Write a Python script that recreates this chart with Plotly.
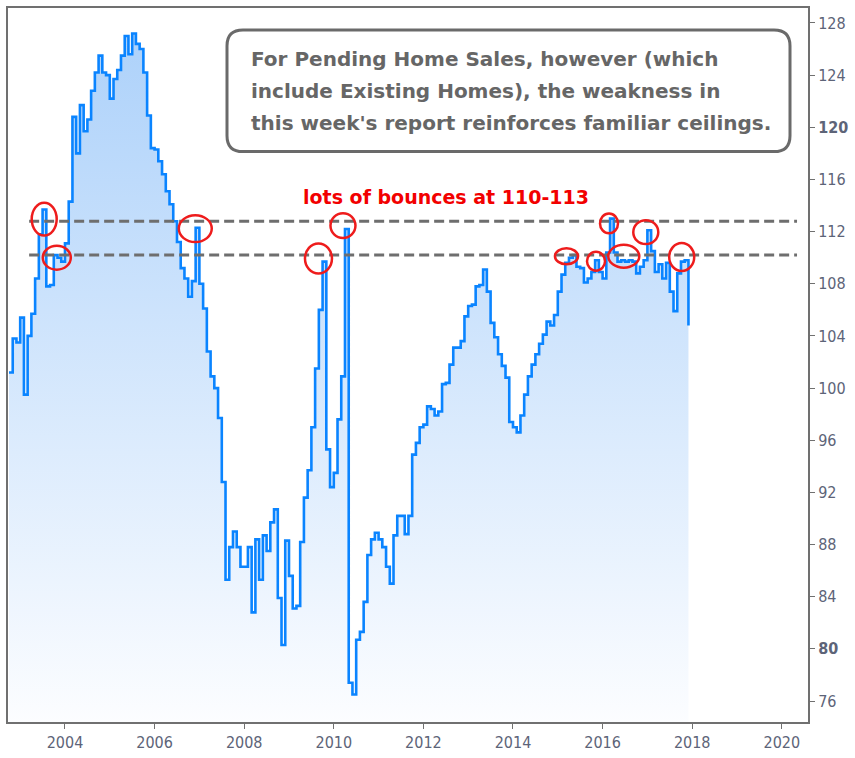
import plotly.graph_objects as go

# ---- data (monthly index, Oct 2002 .. Dec 2017) ----
start_year = 2002
start_month = 10
values = [
    101.2, 103.8, 103.5,
    105.4, 99.5, 104.0, 105.7, 108.4, 111.8, 113.7, 107.8, 107.9, 110.2, 110.0, 109.7,
    111.1, 114.3, 120.8, 118.0, 121.7, 119.7, 120.6, 122.8, 124.2, 125.5, 124.2, 124.0,
    122.2, 123.7, 124.4, 125.5, 127.0, 125.6, 127.2, 126.4, 126.0, 124.2, 120.9, 118.4,
    118.3, 117.4, 116.4, 115.1, 114.1, 112.8, 111.2, 109.2, 108.4, 107.0, 108.2, 112.3,
    108.0, 106.1, 102.8, 100.9, 100.0, 97.7, 92.8, 85.3, 87.8, 89.0, 87.8, 86.3,
    86.3, 87.8, 82.8, 88.4, 85.3, 88.7, 87.5, 89.7, 90.7, 83.9, 80.3, 88.3,
    85.6, 83.1, 83.3, 88.2, 91.6, 93.7, 97.0, 101.5, 106.0, 109.7, 95.3, 92.4,
    93.5, 97.6, 100.9, 112.2, 77.4, 76.5, 80.7, 81.3, 83.6, 87.2, 88.4, 88.9,
    88.4, 87.8, 86.3, 85.0, 88.7, 90.2, 90.2, 88.8, 90.2, 94.9, 95.8, 97.0,
    97.2, 98.6, 98.4, 97.9, 98.2, 100.3, 100.4, 101.8, 103.1, 103.1, 103.6, 105.5,
    106.3, 106.4, 107.8, 107.9, 109.1, 107.4, 105.0, 103.9, 102.6, 101.7, 100.8, 97.4,
    97.0, 96.6, 97.9, 99.5, 100.9, 101.8, 102.6, 103.4, 104.1, 105.1, 104.8, 105.6,
    107.4, 108.7, 109.6, 110.0, 110.2, 109.3, 109.2, 108.1, 108.4, 108.9, 109.8, 108.9,
    108.4, 110.4, 113.0, 110.4, 109.7, 109.8, 109.7, 109.8, 109.7, 108.8, 109.3, 109.8,
    112.1, 110.5, 108.9, 109.5, 108.4, 109.6, 107.4, 105.9, 108.8, 109.7, 109.8, 104.8,
]
dates = [start_year + (start_month - 1 + i) / 12 for i in range(len(values))]

ceiling_levels = [112.8, 110.2]
ceiling_span = [2003.2, 2020.34]

# circled bounces: (decimal year, value, width px, height px)
circle_x = [2003.536, 2003.817, 2006.908, 2009.658, 2010.205, 2015.194, 2015.853, 2016.143, 2016.473, 2016.964, 2017.766]
circle_y = [112.96, 110.0, 112.23, 109.94, 112.46, 110.11, 109.73, 112.63, 110.11, 111.96, 110.05]
circle_w = [25, 28, 33, 27, 25, 23, 18, 18, 31, 25, 25]
circle_h = [33, 24, 27, 30, 25, 16, 19, 20, 23, 24, 28]

y_ticks = [128, 124, 120, 116, 112, 108, 104, 100, 96, 92, 88, 84, 80, 76]
y_bold = [120, 80]
x_ticks = [2004, 2006, 2008, 2010, 2012, 2014, 2016, 2018, 2020]

box_lines = [
    "For Pending Home Sales, however (which",
    "include Existing Homes), the weakness in",
    "this week's report reinforces familiar ceilings.",
]
bounce_label = "lots of bounces at 110-113"

# ---- layout geometry ----
W, H = 855, 758
ml, mr, mt, mb = 8, 47, 6, 36
pw, ph = W - ml - mr, H - mt - mb
x_range = [2002.728, 2020.585]
y_range = [74.39, 129.15]
px_per_x = pw / (x_range[1] - x_range[0])
px_per_y = ph / (y_range[1] - y_range[0])

fig = go.Figure()
fig.add_trace(go.Scatter(
    x=dates, y=values, mode="lines", line=dict(color="#0a84ff", width=2.6, shape="hv"),
    fill="tozeroy",
    fillgradient=dict(type="vertical", start=y_range[0], stop=128,
                      colorscale=[[0, "rgb(252,253,255)"], [1, "rgb(172,209,250)"]]),
    hoverinfo="skip", showlegend=False,
))

shapes = []
for lv in ceiling_levels:
    shapes.append(dict(type="line", xref="x", yref="y", x0=ceiling_span[0], x1=ceiling_span[1],
                       y0=lv, y1=lv, line=dict(color="#6e6e6e", width=3, dash="10px,5px")))
for cx, cy, cw, chh in zip(circle_x, circle_y, circle_w, circle_h):
    dx = cw / 2 / px_per_x
    dy = chh / 2 / px_per_y
    shapes.append(dict(type="circle", xref="x", yref="y", x0=cx - dx, x1=cx + dx,
                       y0=cy - dy, y1=cy + dy, line=dict(color="#ee1c1c", width=2.5)))

# rounded box (paper coords)
bx0p, bx1p, by0p, by1p = 227, 790, 28, 150
r = 16
def px2paper(px, py):
    return (px - ml) / pw, 1 - (py - mt) / ph
x0, y1 = px2paper(bx0p, by0p)
x1, y0 = px2paper(bx1p, by1p)
rx, ry = r / pw, r / ph
path = (f"M {x0+rx},{y1} L {x1-rx},{y1} Q {x1},{y1} {x1},{y1-ry} "
        f"L {x1},{y0+ry} Q {x1},{y0} {x1-rx},{y0} L {x0+rx},{y0} Q {x0},{y0} {x0},{y0+ry} "
        f"L {x0},{y1-ry} Q {x0},{y1} {x0+rx},{y1} Z")
shapes.append(dict(type="path", xref="paper", yref="paper", path=path,
                   line=dict(color="#6a6a6a", width=3), fillcolor="white"))

annotations = []
line_centers = [57, 89, 121]
for txt, cyp in zip(box_lines, line_centers):
    ax, ay = px2paper(249, cyp)
    annotations.append(dict(xref="paper", yref="paper", x=ax, y=ay, xanchor="left", yanchor="middle",
                            text=f"<b>{txt}</b>", showarrow=False,
                            font=dict(family="DejaVu Sans", size=20, color="#666666")))
lx, ly = px2paper(446, 196)
annotations.append(dict(xref="paper", yref="paper", x=lx, y=ly, xanchor="center", yanchor="middle",
                        text=f"<b>{bounce_label}</b>", showarrow=False,
                        font=dict(family="DejaVu Sans", size=19, color="#f20000")))

tick_font = dict(family="DejaVu Sans Condensed, DejaVu Sans", size=16, color="#5d6478")

fig.update_layout(
    width=W, height=H, margin=dict(l=ml, r=mr, t=mt, b=mb),
    paper_bgcolor="white", plot_bgcolor="white",
    shapes=shapes, annotations=annotations,
    xaxis=dict(range=x_range, tickvals=x_ticks, ticktext=[str(t) for t in x_ticks],
               showgrid=False, zeroline=False, showline=True, linecolor="#707070", linewidth=2,
               mirror=True, ticks="outside", ticklen=5, tickcolor="#707070", tickwidth=1,
               tickfont=tick_font),
    yaxis=dict(range=y_range, side="right", tickvals=y_ticks,
               ticktext=[f"<b>{t}</b>" if t in y_bold else str(t) for t in y_ticks],
               showgrid=False, zeroline=False, showline=True, linecolor="#707070", linewidth=2,
               mirror=True, ticks="outside", ticklen=5, tickcolor="#707070", tickwidth=1,
               tickfont=tick_font),
)

fig.write_html("out.html")
